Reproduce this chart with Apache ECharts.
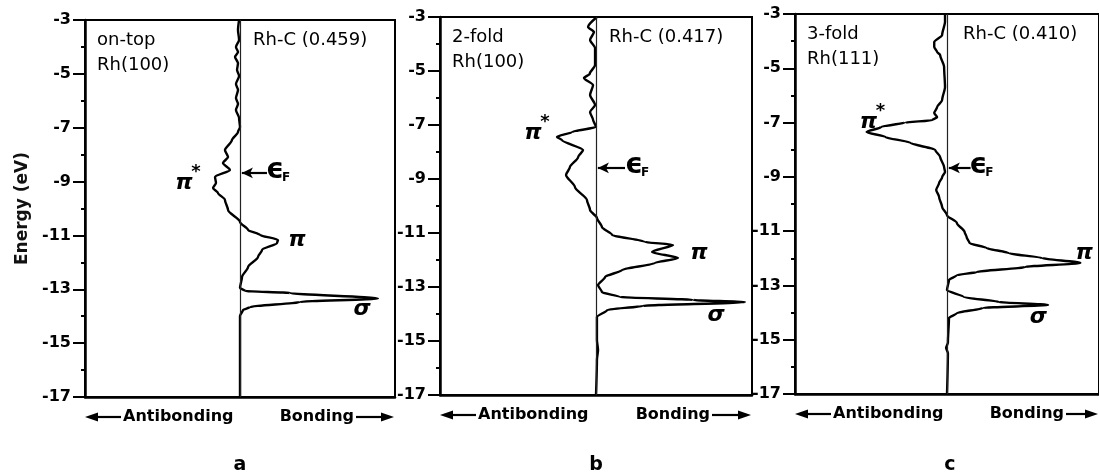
<!DOCTYPE html>
<html>
<head>
<meta charset="utf-8">
<script src="https://cdn.jsdelivr.net/npm/echarts@6/dist/echarts.min.js"></script>
<style>
  html, body { margin: 0; padding: 0; background: #fff; }
  #chart { width: 1099px; height: 476px; }
</style>
</head>
<body>
<div id="chart"></div>
<script>
// COOP curves: energy (eV) vs overlap population (-1 antibonding .. +1 bonding, arb. units)
const energyA = [-3.00, -3.37, -3.74, -4.00, -4.19, -4.37, -4.60, -4.86, -5.08, -5.38, -5.60, -5.90, -6.12, -6.34, -6.64, -6.97,
  -7.16, -7.46, -7.83, -8.09, -8.31, -8.57, -8.83, -9.05, -9.24, -9.42, -9.68, -10.06, -10.50, -10.80, -10.98, -11.17,
  -11.28, -11.54, -11.80, -12.17, -12.54, -12.95, -13.06, -13.14, -13.34, -13.47, -13.66, -13.77, -13.99, -17.00];
const coopA = [-0.006, -0.013, -0.006, -0.026, -0.013, -0.032, -0.013, -0.019, -0.006, -0.026, -0.013, -0.026, -0.013, -0.026, -0.006, 0,
  -0.013, -0.052, -0.097, -0.077, -0.110, -0.065, -0.161, -0.155, -0.174, -0.142, -0.097, -0.077, 0, 0.052, 0.129, 0.245,
  0.239, 0.142, 0.116, 0.052, 0.013, 0, 0.032, 0.323, 0.89, 0.387, 0.065, 0.019, 0, 0];

const energyB = [-3.00, -3.37, -3.56, -3.85, -4.15, -4.78, -5.10, -5.26, -5.52, -5.89, -6.26, -6.52, -6.81, -7.07,
  -7.26, -7.44, -7.56, -7.93, -8.19, -8.56, -8.85, -9.30, -9.78, -10.15, -10.44, -10.78, -11.07, -11.33, -11.44,
  -11.70, -11.93, -12.11, -12.37, -12.63, -12.93, -13.19, -13.37, -13.48, -13.56, -13.70, -13.85, -14.11, -14.96,
  -15.33, -15.70, -17.00];
const coopB = [0.006, -0.051, -0.013, -0.038, -0.006, -0.006, -0.040, -0.077, -0.019, -0.038, -0.006, -0.038, -0.019, 0,
  -0.154, -0.250, -0.218, -0.083, -0.115, -0.167, -0.192, -0.135, -0.058, -0.038, 0.006, 0.038, 0.103, 0.314, 0.494,
  0.359, 0.526, 0.378, 0.167, 0.058, 0.013, 0.038, 0.154, 0.622, 0.955, 0.300, 0.071, 0.006, 0.006,
  0.013, 0.006, 0];

const energyC = [-3.04, -3.29, -3.77, -4.03, -4.22, -4.40, -4.51, -4.95, -5.69, -6.17, -6.43, -6.65, -6.80, -6.91, -7.00,
  -7.16, -7.35, -7.53, -7.75, -8.01, -8.27, -8.64, -8.82, -9.01, -9.23, -9.48, -9.74, -10.11, -10.41, -10.70, -11.03,
  -11.22, -11.44, -11.62, -11.81, -11.99, -12.17, -12.32, -12.51, -12.62, -12.80, -13.17, -13.43, -13.61, -13.72,
  -13.83, -14.02, -14.20, -15.10, -15.30, -15.50, -17.00];
const coopC = [-0.013, -0.013, -0.032, -0.084, -0.084, -0.065, -0.045, -0.019, -0.013, -0.032, -0.065, -0.084, -0.065, -0.097, -0.277,
  -0.432, -0.529, -0.406, -0.239, -0.077, -0.045, -0.019, -0.013, -0.032, -0.052, -0.071, -0.052, -0.032, 0, 0.065, 0.116,
  0.129, 0.148, 0.258, 0.406, 0.626, 0.877, 0.516, 0.194, 0.065, 0.013, 0, 0.110, 0.342, 0.665,
  0.239, 0.065, 0.013, 0.006, -0.006, 0.006, 0];

const energies = [energyA, energyB, energyC];
const coops = [coopA, coopB, coopC];

const panelLetters = ['a', 'b', 'c'];
const siteLabels = ['on-top\nRh(100)', '2-fold\nRh(100)', '3-fold\nRh(111)'];
const bondLabels = ['Rh-C (0.459)', 'Rh-C (0.417)', 'Rh-C (0.410)'];
const fermiLevels = [-8.68, -8.59, -8.67];

// annotation anchors in data units [coop, energy]
const piStarAt = [[-0.361, -9.05], [-0.404, -7.30], [-0.516, -6.98]];
const piAt = [[0.368, -11.17], [0.66, -11.74], [0.903, -11.81]];
const sigmaAt = [[0.787, -13.73], [0.769, -14.04], [0.60, -14.16]];
const fermiTextX = [0.252, 0.27, 0.232];
const fermiTailX = [0.174, 0.186, 0.155];

// layout
const gridLeft = [85, 440, 795];
const gridTop = [20, 17, 14];
const gridWidth = [310, 312, 310];
const gridHeight = [377, 378, 380];

const chart = echarts.init(document.getElementById('chart'));

const grids = [], xAxes = [], yAxes = [], series = [], titles = [], graphics = [];

for (let i = 0; i < 3; i++) {
  grids.push({
    left: gridLeft[i], top: gridTop[i], width: gridWidth[i], height: gridHeight[i],
    show: true, borderColor: '#000', borderWidth: 2, backgroundColor: 'transparent'
  });
  xAxes.push({
    type: 'value', gridIndex: i, min: -1, max: 1,
    axisLine: { show: true, onZero: false, lineStyle: { color: '#000', width: 2.5 } },
    axisTick: { show: false }, axisLabel: { show: false }, splitLine: { show: false }
  });
  yAxes.push({
    type: 'value', gridIndex: i, min: -17, max: -3, interval: 2,
    name: i === 0 ? 'Energy (eV)' : '',
    nameLocation: 'middle', nameRotate: 90, nameGap: 54,
    nameTextStyle: { fontFamily: 'DejaVu Sans', fontWeight: 'bold', fontSize: 17, color: '#111' },
    axisLine: { show: true, onZero: false, lineStyle: { color: '#000', width: 2.5 } },
    axisTick: { show: true, length: 12, lineStyle: { color: '#000', width: 2 } },
    minorTick: { show: true, splitNumber: 2, length: 4, lineStyle: { color: '#000', width: 2 } },
    axisLabel: {
      margin: 14, color: '#000', fontFamily: 'DejaVu Sans', fontWeight: 'bold', fontSize: 16,
      formatter: v => String(v)
    },
    splitLine: { show: false }
  });

  const ef = fermiLevels[i];
  const lbl = (coord, text, size, style, offset, weight) => ({
    coord, symbol: 'circle', symbolSize: 1, itemStyle: { color: 'rgba(0,0,0,0)' },
    label: {
      show: true, position: 'inside', formatter: text, offset: offset || [0, 0],
      color: '#000', fontFamily: 'DejaVu Sans', fontStyle: style, fontSize: size, fontWeight: weight || 'normal'
    }
  });

  series.push({
    type: 'line', xAxisIndex: i, yAxisIndex: i,
    data: energies[i].map((e, k) => [coops[i][k], e]),
    showSymbol: false, smooth: 0.25, smoothMonotone: 'y',
    lineStyle: { color: '#000', width: 2.4 },
    silent: true, animation: false, z: 3,
    markLine: {
      silent: true, animation: false, symbol: 'none',
      label: { show: false },
      lineStyle: { color: '#222', width: 1.2, type: 'solid' },
      data: [
        [{ coord: [0, -3] }, { coord: [0, -17] }],
        [{ coord: [fermiTailX[i], ef], symbol: 'none' },
         { coord: [0.012, ef], symbol: 'arrow', symbolSize: [8, 11], lineStyle: { width: 2.2, color: '#000' } }]
      ]
    },
    markPoint: {
      silent: true, animation: false,
      data: [
        lbl(piStarAt[i], 'π', 22, 'italic', [0, 0], 'bold'),
        lbl(piStarAt[i], '*', 18, 'normal', [12, -11], 'bold'),
        lbl(piAt[i], 'π', 22, 'italic', [0, 0], 'bold'),
        lbl(sigmaAt[i], 'σ', 22, 'italic', [0, 0], 'bold'),
        lbl([fermiTextX[i], ef], 'ϵ', 28, 'normal', [-4, -2], 'bold'),
        lbl([fermiTextX[i], ef], 'F', 12, 'normal', [7, 5], 'bold')
      ]
    }
  });

  titles.push({
    text: siteLabels[i], left: gridLeft[i] + 12, top: gridTop[i] + 8, padding: 0,
    textStyle: { fontFamily: 'DejaVu Sans', fontWeight: 'normal', fontSize: 18, lineHeight: 25, color: '#000' }
  });
  titles.push({
    text: bondLabels[i], left: gridLeft[i] + gridWidth[i] / 2 + 13, top: gridTop[i] + 8, padding: 0,
    textStyle: { fontFamily: 'DejaVu Sans', fontWeight: 'normal', fontSize: 18, lineHeight: 25, color: '#000' }
  });

  // Antibonding / Bonding arrows under each panel
  const L = gridLeft[i], C = gridLeft[i] + gridWidth[i] / 2;
  const R = Math.min(gridLeft[i] + gridWidth[i], 1099);
  const yb = gridTop[i] + gridHeight[i] + 20;
  const font = 'bold 16px "DejaVu Sans"';
  graphics.push(
    { type: 'line', shape: { x1: L + 6, y1: yb, x2: L + 36, y2: yb }, style: { stroke: '#000', lineWidth: 2.2 } },
    { type: 'polygon', shape: { points: [[L, yb], [L + 13, yb - 4.5], [L + 13, yb + 4.5]] }, style: { fill: '#000' } },
    { type: 'text', x: L + 38, y: yb, style: { text: 'Antibonding', font, fill: '#000', align: 'left', verticalAlign: 'middle' } },
    { type: 'text', x: C + 114, y: yb, style: { text: 'Bonding', font, fill: '#000', align: 'right', verticalAlign: 'middle' } },
    { type: 'line', shape: { x1: C + 116, y1: yb, x2: R - 8, y2: yb }, style: { stroke: '#000', lineWidth: 2.2 } },
    { type: 'polygon', shape: { points: [[R - 1, yb], [R - 14, yb - 4.5], [R - 14, yb + 4.5]] }, style: { fill: '#000' } },
    { type: 'text', x: C, y: 465, style: { text: panelLetters[i], font: 'bold 19px "DejaVu Sans"', fill: '#000', align: 'center', verticalAlign: 'middle' } }
  );
}

chart.setOption({
  animation: false,
  backgroundColor: '#fff',
  title: titles,
  grid: grids,
  xAxis: xAxes,
  yAxis: yAxes,
  series: series,
  graphic: graphics
});
</script>
</body>
</html>
